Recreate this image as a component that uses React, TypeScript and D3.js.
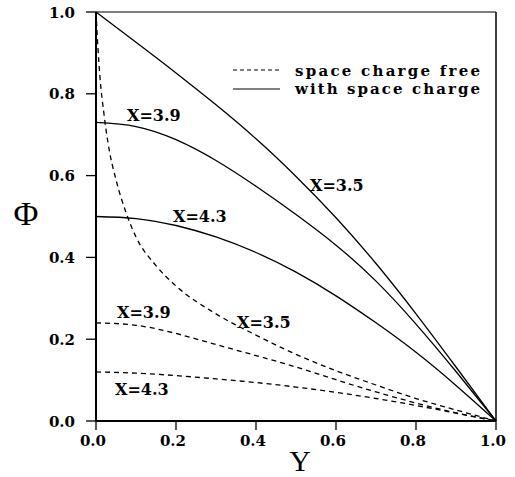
import React from "react";
import * as d3 from "d3";

const W = 515;
const H = 477;

const xTicks = [0, 0.2, 0.4, 0.6, 0.8, 1.0];
const yTicks = [0, 0.2, 0.4, 0.6, 0.8, 1.0];

const gridY = [0, 0.1, 0.2, 0.3, 0.4, 0.5, 0.6, 0.7, 0.8, 0.9, 1.0];

// with space charge (solid)
const solid35P = [1.0, 0.926, 0.851, 0.773, 0.69, 0.598, 0.497, 0.385, 0.262, 0.132, 0.0];
const solid39P = [0.73, 0.72, 0.688, 0.637, 0.574, 0.505, 0.43, 0.342, 0.237, 0.121, 0.0];
const solid43P = [0.5, 0.495, 0.478, 0.45, 0.412, 0.364, 0.306, 0.24, 0.168, 0.087, 0.0];

// space charge free (dashed)
const dash35Y = [0, 0.005, 0.01, 0.02, 0.03, 0.05, 0.075, 0.1, 0.15, 0.2, 0.3, 0.4, 0.5, 0.6, 0.7, 0.8, 0.9, 1.0];
const dash35P = [1.0, 0.91, 0.84, 0.75, 0.68, 0.59, 0.51, 0.45, 0.38, 0.33, 0.262, 0.21, 0.163, 0.123, 0.088, 0.055, 0.027, 0.0];
const dash39P = [0.24, 0.234, 0.214, 0.187, 0.16, 0.132, 0.101, 0.071, 0.044, 0.02, 0.0];
const dash43P = [0.12, 0.117, 0.111, 0.103, 0.094, 0.083, 0.07, 0.055, 0.038, 0.019, 0.0];

const series = [
  { ys: gridY, ps: solid35P, dashed: false, steep: false },
  { ys: gridY, ps: solid39P, dashed: false, steep: false },
  { ys: gridY, ps: solid43P, dashed: false, steep: false },
  { ys: dash35Y, ps: dash35P, dashed: true, steep: true },
  { ys: gridY, ps: dash39P, dashed: true, steep: false },
  { ys: gridY, ps: dash43P, dashed: true, steep: false },
];

const labelTexts = ["X=3.9", "X=4.3", "X=3.5", "X=3.9", "X=4.3", "X=3.5"];
const labelPos = [
  [127, 121],
  [173, 222],
  [310, 191],
  [117, 318],
  [115, 395],
  [237, 328],
];

const legendItems = ["space charge free", "with space charge"];

export default function App() {
  const left = 96, right = 496, top = 12, bottom = 421;
  const x = d3.scaleLinear().domain([0, 1]).range([left, right]);
  const y = d3.scaleLinear().domain([0, 1]).range([bottom, top]);
  const mk = (steep: boolean) =>
    d3
      .line<[number, number]>()
      .x((d) => x(d[0]))
      .y((d) => y(d[1]))
      .curve(steep ? d3.curveMonotoneX : d3.curveNatural);

  const bold = "'DejaVu Serif', serif";
  return (
    <svg width={W} height={H} style={{ position: "absolute", left: 0, top: 0, background: "#fff" }}>
      <rect x={0} y={0} width={W} height={H} fill="#fff" />
      {/* frame */}
      <line x1={left} y1={top} x2={right} y2={top} stroke="#000" strokeWidth={1.2} />
      <line x1={right} y1={top} x2={right} y2={bottom} stroke="#000" strokeWidth={1.5} />
      <line x1={left} y1={top} x2={left} y2={bottom} stroke="#000" strokeWidth={2} />
      <line x1={left} y1={bottom} x2={right} y2={bottom} stroke="#000" strokeWidth={2} />
      {/* y ticks */}
      {yTicks.map((t) => (
        <g key={"y" + t}>
          <line x1={left - 10} x2={left} y1={y(t)} y2={y(t)} stroke="#000" strokeWidth={1.3} />
          <text x={75} y={y(t) + 5.5} textAnchor="end" fontFamily={bold} fontWeight="bold" fontSize={15}>
            {d3.format(".1f")(t)}
          </text>
        </g>
      ))}
      {/* x ticks */}
      {xTicks.map((t) => (
        <g key={"x" + t}>
          <line x1={x(t)} x2={x(t)} y1={bottom} y2={bottom + 9} stroke="#000" strokeWidth={1.3} />
          <text x={x(t) - 3} y={446} textAnchor="middle" fontFamily={bold} fontWeight="bold" fontSize={15}>
            {d3.format(".1f")(t)}
          </text>
        </g>
      ))}
      {/* axis titles */}
      <text x={26} y={225} textAnchor="middle" fontFamily="'Liberation Serif', serif" fontSize={34}>
        Φ
      </text>
      <text x={300} y={471} textAnchor="middle" fontFamily="'Liberation Serif', serif" fontSize={30}>
        Y
      </text>
      {/* curves */}
      {series.map((s, i) => (
        <path
          key={i}
          d={mk(s.steep)(s.ys.map((v, j) => [v, s.ps[j]] as [number, number])) || ""}
          fill="none"
          stroke="#000"
          strokeWidth={1.3}
          strokeDasharray={s.dashed ? "5,4" : undefined}
        />
      ))}
      {/* labels */}
      {labelTexts.map((t, i) => (
        <text key={i} x={labelPos[i][0]} y={labelPos[i][1]} fontFamily={bold} fontWeight="bold" fontSize={16}>
          {t}
        </text>
      ))}
      {/* legend */}
      <line x1={233} x2={280} y1={70} y2={70} stroke="#000" strokeWidth={1.2} strokeDasharray="4,3" />
      <line x1={233} x2={280} y1={89} y2={89} stroke="#000" strokeWidth={1.2} />
      {legendItems.map((t, i) => (
        <text
          key={t}
          x={295}
          y={76 + i * 18}
          fontFamily={bold}
          fontWeight="bold"
          fontSize={15}
          textLength={185}
          lengthAdjust="spacing"
        >
          {t}
        </text>
      ))}
    </svg>
  );
}
